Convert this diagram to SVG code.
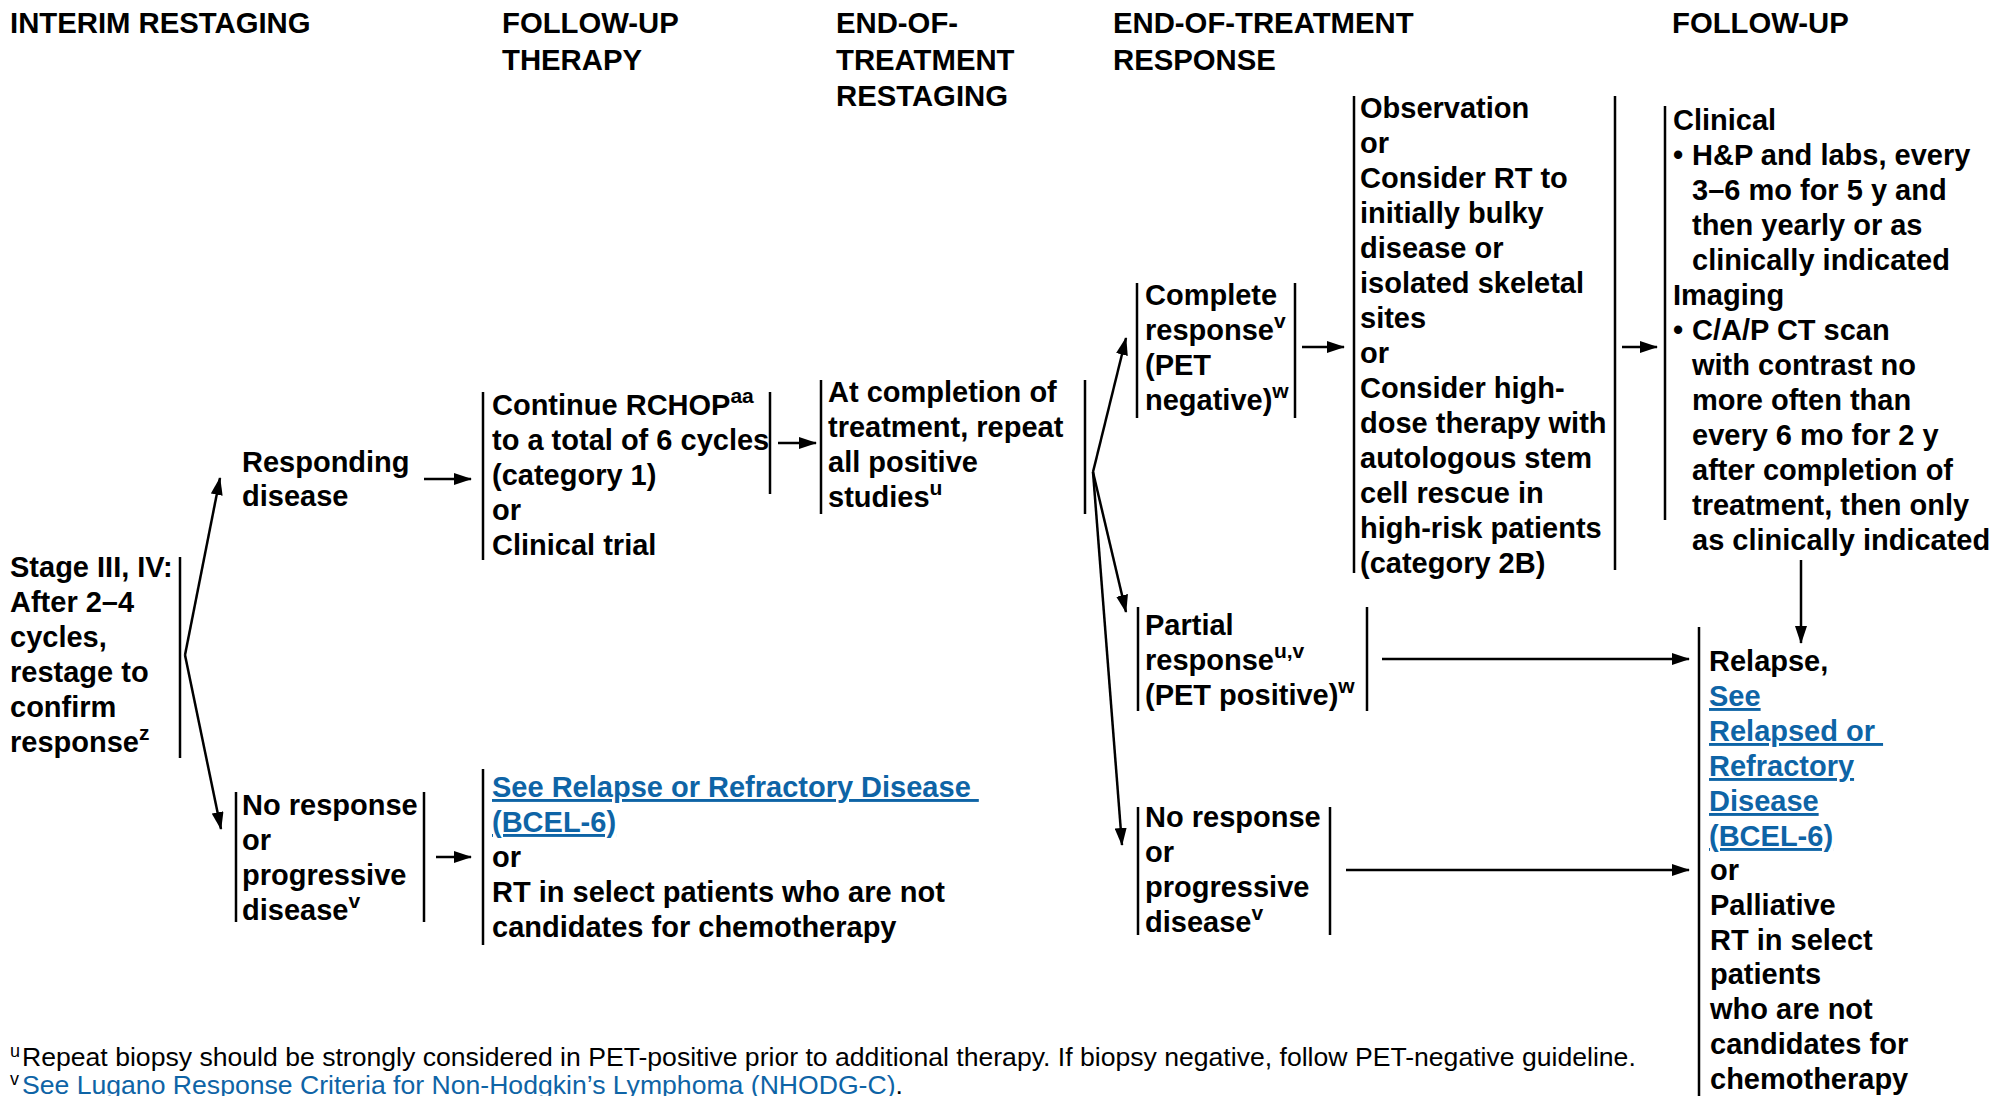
<svg xmlns="http://www.w3.org/2000/svg" width="1997" height="1096" viewBox="0 0 1997 1096">
  <style>
    text { font-family: "Liberation Sans", Arial, Helvetica, sans-serif; font-size: 29px; font-weight: bold; fill: #000; }
    .hd { font-size: 29.3px; }
    .sup { font-size: 21px; }
    .lk { fill: #0e64a6; text-decoration: underline; }
    .fn { font-size: 26.6px; font-weight: normal; }
    .fnsup { font-size: 18px; font-weight: normal; }
    .br { stroke: #000; stroke-width: 2.5; fill: none; }
    .ar { stroke: #000; stroke-width: 2.5; fill: none; marker-end: url(#ah); }
  </style>
  <defs>
    <marker id="ah" markerUnits="userSpaceOnUse" markerWidth="18" markerHeight="12" refX="17" refY="6" orient="auto">
      <path d="M0,0 L18,6 L0,12 z" fill="#000"/>
    </marker>
  </defs>
  <rect width="1997" height="1096" fill="#fff"/>

  <!-- column headings -->
  <g id="headings">
    <text class="hd" x="10" y="33">INTERIM RESTAGING</text>
    <text class="hd" x="502" y="33">FOLLOW-UP</text>
    <text class="hd" x="502" y="69.5">THERAPY</text>
    <text class="hd" x="836" y="33">END-OF-</text>
    <text class="hd" x="836" y="69.5">TREATMENT</text>
    <text class="hd" x="836" y="106">RESTAGING</text>
    <text class="hd" x="1113" y="33">END-OF-TREATMENT</text>
    <text class="hd" x="1113" y="69.5">RESPONSE</text>
    <text class="hd" x="1672" y="33">FOLLOW-UP</text>
  </g>

  <g id="stage">
    <text x="10" y="577">Stage III, IV:</text>
    <text x="10" y="612">After 2–4</text>
    <text x="10" y="647">cycles,</text>
    <text x="10" y="682">restage to</text>
    <text x="10" y="717">confirm</text>
    <text x="10" y="752">response<tspan class="sup" dy="-12">z</tspan></text>
    <line class="br" x1="180" y1="557" x2="180" y2="758"/>
  </g>

  <g id="responding">
    <text x="242" y="472">Responding</text>
    <text x="242" y="506">disease</text>
  </g>

  <g id="no-response-interim">
    <line class="br" x1="236" y1="792" x2="236" y2="922"/>
    <text x="242" y="815">No response</text>
    <text x="242" y="850">or</text>
    <text x="242" y="885">progressive</text>
    <text x="242" y="920">disease<tspan class="sup" dy="-12">v</tspan></text>
    <line class="br" x1="424" y1="792" x2="424" y2="922"/>
  </g>

  <g id="continue-rchop">
    <line class="br" x1="483" y1="392" x2="483" y2="560"/>
    <text x="492" y="415">Continue RCHOP<tspan class="sup" dy="-12">aa</tspan></text>
    <text x="492" y="450">to a total of 6 cycles</text>
    <text x="492" y="485">(category 1)</text>
    <text x="492" y="520">or</text>
    <text x="492" y="555">Clinical trial</text>
    <line class="br" x1="770" y1="392" x2="770" y2="494"/>
  </g>

  <g id="relapse-interim">
    <line class="br" x1="483" y1="769" x2="483" y2="945"/>
    <text x="492" y="797" class="lk" xml:space="preserve">See Relapse or Refractory Disease </text>
    <text x="492" y="832" class="lk">(BCEL-6)</text>
    <text x="492" y="867">or</text>
    <text x="492" y="902">RT in select patients who are not</text>
    <text x="492" y="937">candidates for chemotherapy</text>
  </g>

  <g id="end-restaging">
    <line class="br" x1="821" y1="380" x2="821" y2="514"/>
    <text x="828" y="402">At completion of</text>
    <text x="828" y="437">treatment, repeat</text>
    <text x="828" y="472">all positive</text>
    <text x="828" y="507">studies<tspan class="sup" dy="-12">u</tspan></text>
    <line class="br" x1="1085" y1="380" x2="1085" y2="514"/>
  </g>

  <g id="complete-response">
    <line class="br" x1="1137" y1="283" x2="1137" y2="418"/>
    <text x="1145" y="305">Complete</text>
    <text x="1145" y="340">response<tspan class="sup" dy="-12">v</tspan></text>
    <text x="1145" y="375">(PET</text>
    <text x="1145" y="410">negative)<tspan class="sup" dy="-12">w</tspan></text>
    <line class="br" x1="1295" y1="283" x2="1295" y2="418"/>
  </g>

  <g id="observation">
    <line class="br" x1="1354" y1="96" x2="1354" y2="573"/>
    <text x="1360" y="118">Observation</text>
    <text x="1360" y="153">or</text>
    <text x="1360" y="188">Consider RT to</text>
    <text x="1360" y="223">initially bulky</text>
    <text x="1360" y="258">disease or</text>
    <text x="1360" y="293">isolated skeletal</text>
    <text x="1360" y="328">sites</text>
    <text x="1360" y="363">or</text>
    <text x="1360" y="398">Consider high-</text>
    <text x="1360" y="433">dose therapy with</text>
    <text x="1360" y="468">autologous stem</text>
    <text x="1360" y="503">cell rescue in</text>
    <text x="1360" y="538">high-risk patients</text>
    <text x="1360" y="573">(category 2B)</text>
    <line class="br" x1="1615" y1="96" x2="1615" y2="570"/>
  </g>

  <g id="follow-up">
    <line class="br" x1="1665" y1="106" x2="1665" y2="520"/>
    <text x="1673" y="130">Clinical</text>
    <text x="1673" y="165">•<tspan x="1692">H&amp;P and labs, every</tspan></text>
    <text x="1692" y="200">3–6 mo for 5 y and</text>
    <text x="1692" y="235">then yearly or as</text>
    <text x="1692" y="270">clinically indicated</text>
    <text x="1673" y="305">Imaging</text>
    <text x="1673" y="340">•<tspan x="1692">C/A/P CT scan</tspan></text>
    <text x="1692" y="375">with contrast no</text>
    <text x="1692" y="410">more often than</text>
    <text x="1692" y="445">every 6 mo for 2 y</text>
    <text x="1692" y="480">after completion of</text>
    <text x="1692" y="515">treatment, then only</text>
    <text x="1692" y="550">as clinically indicated</text>
  </g>

  <g id="partial-response">
    <line class="br" x1="1138" y1="607" x2="1138" y2="711"/>
    <text x="1145" y="635">Partial</text>
    <text x="1145" y="670">response<tspan class="sup" dy="-12">u,v</tspan></text>
    <text x="1145" y="705">(PET positive)<tspan class="sup" dy="-12">w</tspan></text>
    <line class="br" x1="1367" y1="607" x2="1367" y2="711"/>
  </g>

  <g id="no-response-end">
    <line class="br" x1="1138" y1="807" x2="1138" y2="935"/>
    <text x="1145" y="827">No response</text>
    <text x="1145" y="862">or</text>
    <text x="1145" y="897">progressive</text>
    <text x="1145" y="932">disease<tspan class="sup" dy="-12">v</tspan></text>
    <line class="br" x1="1330" y1="807" x2="1330" y2="935"/>
  </g>

  <g id="relapse-follow-up">
    <line class="br" x1="1699" y1="627" x2="1699" y2="1096"/>
    <text x="1709" y="671">Relapse,</text>
    <text x="1709" y="706" class="lk">See</text>
    <text x="1709" y="741" class="lk" xml:space="preserve">Relapsed or </text>
    <text x="1709" y="776" class="lk">Refractory</text>
    <text x="1709" y="811" class="lk">Disease</text>
    <text x="1709" y="846" class="lk">(BCEL-6)</text>
    <text x="1710" y="880">or</text>
    <text x="1710" y="915">Palliative</text>
    <text x="1710" y="950">RT in select</text>
    <text x="1710" y="984">patients</text>
    <text x="1710" y="1019">who are not</text>
    <text x="1710" y="1054">candidates for</text>
    <text x="1710" y="1089">chemotherapy</text>
  </g>

  <!-- connectors -->
  <g id="connectors">
    <path class="ar" d="M185,655 L220,478"/>
    <path class="ar" d="M185,655 L221,829"/>
    <path class="ar" d="M424,479 L471,479"/>
    <path class="ar" d="M436,857 L471,857"/>
    <path class="ar" d="M778,443 L816,443"/>
    <path class="ar" d="M1093,472 L1126,338"/>
    <path class="ar" d="M1093,472 L1126,612"/>
    <path class="ar" d="M1093,472 L1122,845"/>
    <path class="ar" d="M1302,347 L1344,347"/>
    <path class="ar" d="M1622,347 L1657,347"/>
    <path class="ar" d="M1801,560 L1801,643"/>
    <path class="ar" d="M1382,659 L1689,659"/>
    <path class="ar" d="M1346,870 L1689,870"/>
  </g>

  <g id="footnotes">
    <text x="10" y="1057" class="fnsup">u</text>
    <text x="22" y="1066" class="fn">Repeat biopsy should be strongly considered in PET-positive prior to additional therapy. If biopsy negative, follow PET-negative guideline.</text>
    <text x="10" y="1085" class="fnsup">v</text>
    <text x="22" y="1094" class="fn"><tspan class="lk">See Lugano Response Criteria for Non-Hodgkin’s Lymphoma (NHODG-C)</tspan>.</text>
  </g>
</svg>
